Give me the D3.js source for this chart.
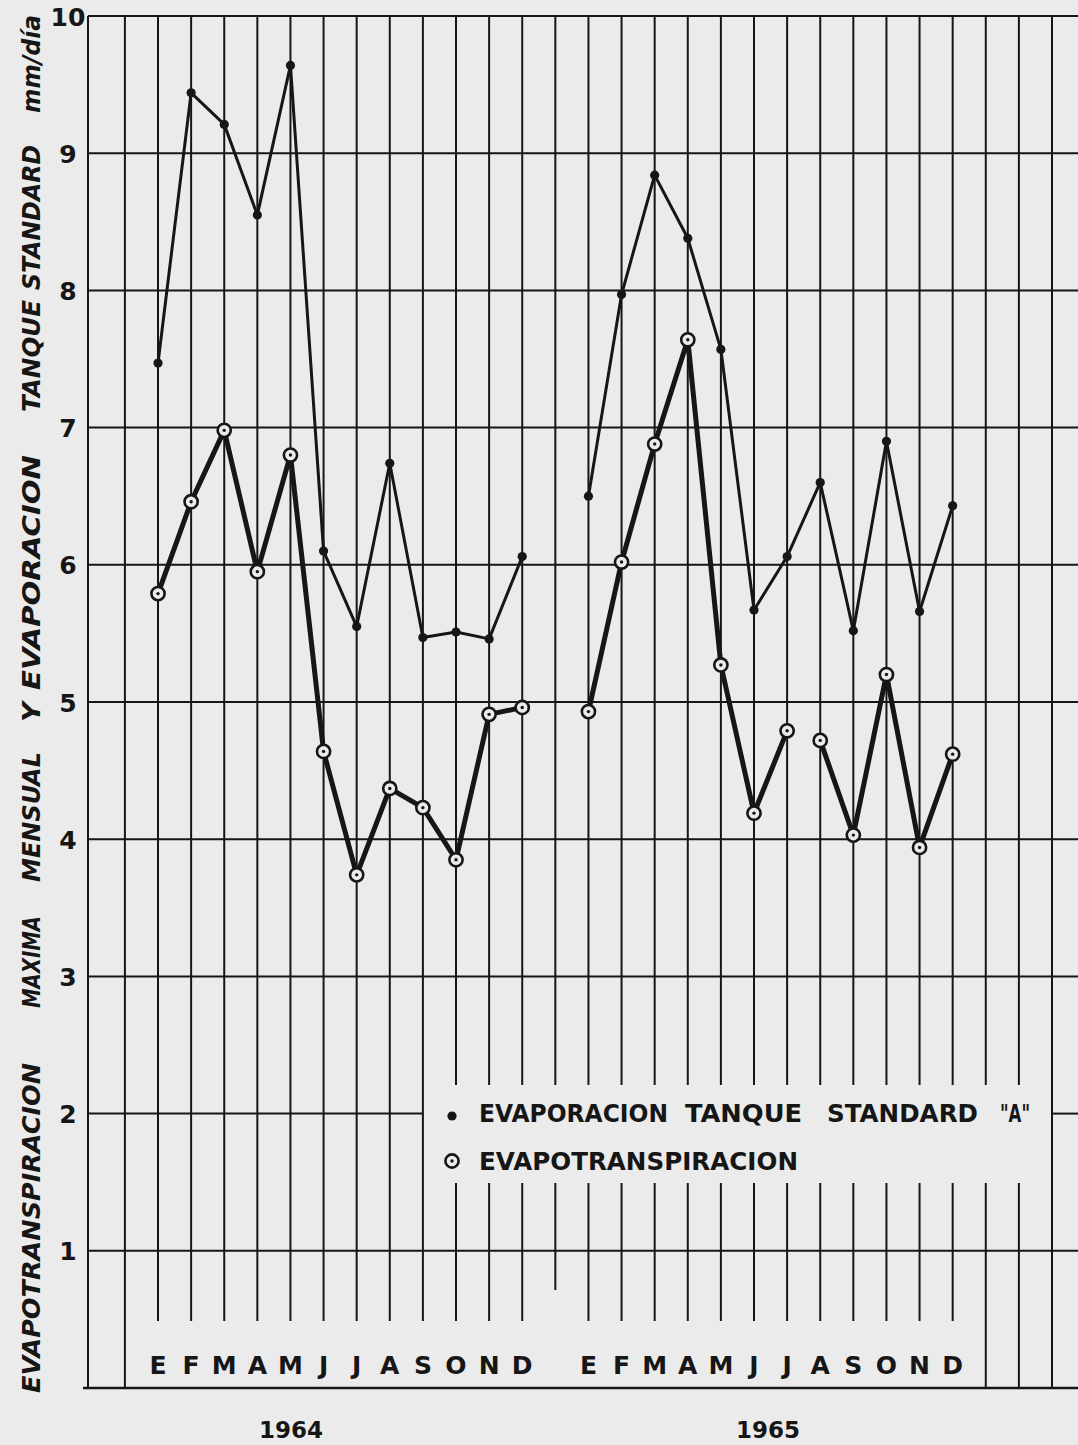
<!DOCTYPE html>
<html>
<head>
<meta charset="utf-8">
<script src="https://cdn.jsdelivr.net/npm/d3@7"></script>
<style>
  html, body { margin: 0; padding: 0; background: #ebebeb; }
  svg { display: block; }
  text { font-family: "DejaVu Sans", "Liberation Sans", sans-serif; font-weight: bold; fill: #161616; }
</style>
</head>
<body>
<svg id="chart" width="1078" height="1445"></svg>
<script>
// Month initials (Spanish) and the two years plotted
const months = ["E", "F", "M", "A", "M", "J", "J", "A", "S", "O", "N", "D"];
const years = ["1964", "1965"];
const yTicks = [1, 2, 3, 4, 5, 6, 7, 8, 9, 10];

// Evaporación tanque standard "A" (mm/día), monthly
const evap1964 = [7.47, 9.44, 9.21, 8.55, 9.64, 6.10, 5.55, 6.74, 5.47, 5.51, 5.46, 6.06];
const evap1965 = [6.50, 7.97, 8.84, 8.38, 7.57, 5.67, 6.06, 6.60, 5.52, 6.90, 5.66, 6.43];

// Evapotranspiración máxima mensual (mm/día)
const et1964 = [5.79, 6.46, 6.98, 5.95, 6.80, 4.64, 3.74, 4.37, 4.23, 3.85, 4.91, 4.96];
const et1965 = [4.93, 6.02, 6.88, 7.64, 5.27, 4.19, 4.79, 4.72, 4.03, 5.20, 3.94, 4.62];
// months after which the 1965 curve is not joined to the next one (Jul -> Ago)
const et1965Breaks = [6];

const legendEvap = ["EVAPORACION", "TANQUE", "STANDARD", "\"A\""];
const legendET = ["EVAPOTRANSPIRACION"];
const axisTitle = ["EVAPOTRANSPIRACION", "MAXIMA", "MENSUAL", "Y", "EVAPORACION", "TANQUE", "STANDARD", "mm/día"];

// ---------------------------------------------------------------------------
const INK = "#161616";
const PAPER = "#ebebeb";
const svg = d3.select("#chart");

// one vertical ruling per slot; months of 1964 in slots 1-12, 1965 in 14-25
const nSlots = 28;
const x = d3.scaleLinear().domain([0, nSlots]).range([124.9, 1052]);
const y = d3.scaleLinear().domain([0, 10]).range([1388, 16]);
const slotOf = (yearIdx, m) => 1 + 13 * yearIdx + m;

const frameLeft = 88, rightEdge = 1078;
const monthLineEnd = 1321;
// blank box behind the legend
const gapX = [x(9), x(28)], gapY = [1085, 1183];

const grid = svg.append("g").attr("stroke", INK).attr("stroke-width", 2).attr("fill", "none");

// horizontal rulings
yTicks.forEach(v => {
  const yy = y(v);
  if (v === 2) {
    grid.append("line").attr("x1", frameLeft).attr("x2", gapX[0]).attr("y1", yy).attr("y2", yy);
    grid.append("line").attr("x1", gapX[1]).attr("x2", rightEdge).attr("y1", yy).attr("y2", yy);
  } else {
    grid.append("line").attr("x1", frameLeft).attr("x2", rightEdge).attr("y1", yy).attr("y2", yy);
  }
});
// base line
grid.append("line").attr("x1", 83).attr("x2", rightEdge).attr("y1", y(0)).attr("y2", y(0)).attr("stroke-width", 2.4);
// outer left frame
grid.append("line").attr("x1", frameLeft).attr("x2", frameLeft).attr("y1", y(10)).attr("y2", y(0));

// vertical rulings
d3.range(0, nSlots + 1).forEach(s => {
  const xx = x(s);
  const full = (s === 0 || s >= 26);
  let bottom = full ? y(0) : monthLineEnd;
  if (s === 13) bottom = 1290;
  const interrupted = s > 9 && s < 28;
  if (interrupted) {
    grid.append("line").attr("x1", xx).attr("x2", xx).attr("y1", y(10)).attr("y2", gapY[0]);
    grid.append("line").attr("x1", xx).attr("x2", xx).attr("y1", gapY[1]).attr("y2", bottom);
  } else {
    grid.append("line").attr("x1", xx).attr("x2", xx).attr("y1", y(10)).attr("y2", bottom);
  }
});

// y tick labels
svg.append("g").selectAll("text").data(yTicks).join("text")
  .attr("x", 68).attr("y", d => y(d) + 1)
  .attr("text-anchor", "middle").attr("dominant-baseline", "central")
  .attr("font-size", 25)
  .text(d => d);

// month labels and years
years.forEach((yr, yi) => {
  svg.append("g").selectAll("text").data(months).join("text")
    .attr("x", (d, m) => x(slotOf(yi, m)))
    .attr("y", 1374)
    .attr("text-anchor", "middle")
    .attr("font-size", 25)
    .text(d => d);
});
const yearPos = [291, 768];
svg.append("g").selectAll("text").data(years).join("text")
  .attr("x", (d, i) => yearPos[i]).attr("y", 1438)
  .attr("text-anchor", "middle").attr("font-size", 23)
  .text(d => d);

// rotated axis title, word by word (start = lower end, len = extent along the axis)
const titleLayout = [
  { start: 1393, len: 330 }, { start: 1008, len: 92 }, { start: 882, len: 130 },
  { start: 722, len: 20 }, { start: 690, len: 235 }, { start: 412, len: 112 },
  { start: 290, len: 145 }, { start: 113, len: 98 }
];
svg.append("g").selectAll("text").data(axisTitle).join("text")
  .attr("transform", (d, i) => `translate(40,${titleLayout[i].start}) rotate(-90)`)
  .attr("font-size", 25).attr("font-style", "italic")
  .attr("textLength", (d, i) => titleLayout[i].len).attr("lengthAdjust", "spacingAndGlyphs")
  .text(d => d);

// series
const line = d3.line().x(d => x(d.slot)).y(d => y(d.v));
const toPts = (arr, yi) => arr.map((v, m) => ({ slot: slotOf(yi, m), v }));

const evapSeries = [toPts(evap1964, 0), toPts(evap1965, 1)];
const etSeries = [toPts(et1964, 0), toPts(et1965, 1)];

// split a series into joined runs
function runs(pts, breaks) {
  const out = []; let cur = [];
  pts.forEach((p, i) => {
    cur.push(p);
    if (breaks.includes(i)) { out.push(cur); cur = []; }
  });
  if (cur.length) out.push(cur);
  return out;
}

const gEvap = svg.append("g");
evapSeries.forEach(pts => {
  gEvap.append("path").attr("d", line(pts))
    .attr("fill", "none").attr("stroke", INK).attr("stroke-width", 3)
    .attr("stroke-linejoin", "round");
});

const gET = svg.append("g");
[runs(etSeries[0], []), runs(etSeries[1], et1965Breaks)].forEach(rs => {
  rs.forEach(pts => {
    gET.append("path").attr("d", line(pts))
      .attr("fill", "none").attr("stroke", INK).attr("stroke-width", 5)
      .attr("stroke-linejoin", "round");
  });
});

// markers
evapSeries.flat().forEach(p => {
  gEvap.append("circle").attr("cx", x(p.slot)).attr("cy", y(p.v)).attr("r", 4.6).attr("fill", INK);
});
function ring(g, cx, cy) {
  g.append("circle").attr("cx", cx).attr("cy", cy).attr("r", 6.6)
    .attr("fill", PAPER).attr("stroke", INK).attr("stroke-width", 2.6);
  g.append("circle").attr("cx", cx).attr("cy", cy).attr("r", 1.7).attr("fill", INK);
}
etSeries.flat().forEach(p => ring(gET, x(p.slot), y(p.v)));

// legend
const gLeg = svg.append("g");
gLeg.append("circle").attr("cx", 452).attr("cy", 1116).attr("r", 4.6).attr("fill", INK);
ring(gLeg, 452, 1161);
const legLayout1 = [{ x: 479, len: 189 }, { x: 685, len: 117 }, { x: 827, len: 151 }, { x: 1000, len: 30 }];
gLeg.append("g").selectAll("text").data(legendEvap).join("text")
  .attr("x", (d, i) => legLayout1[i].x).attr("y", 1122)
  .attr("font-size", 25)
  .attr("textLength", (d, i) => legLayout1[i].len).attr("lengthAdjust", "spacingAndGlyphs")
  .text(d => d);
gLeg.append("g").selectAll("text").data(legendET).join("text")
  .attr("x", 479).attr("y", 1170)
  .attr("font-size", 25)
  .attr("textLength", 319).attr("lengthAdjust", "spacingAndGlyphs")
  .text(d => d);
</script>
</body>
</html>
